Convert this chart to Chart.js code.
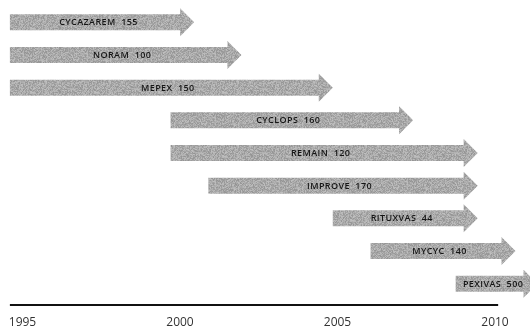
<!DOCTYPE html>
<html>
<head>
<meta charset="utf-8">
<script src="https://cdn.jsdelivr.net/npm/chart.js@4"></script>
<style>
  html, body { margin: 0; padding: 0; background: #fff; }
  #wrap { width: 530px; height: 328px; }
</style>
</head>
<body>
<div id="wrap"><canvas id="chart"></canvas></div>
<script>
// trials, in order from top to bottom
const trials = ['CYCAZAREM', 'NORAM', 'MEPEX', 'CYCLOPS', 'REMAIN', 'IMPROVE', 'RITUXVAS', 'MYCYC', 'PEXIVAS'];
// number of patients shown after the name
const patients = [155, 100, 150, 160, 120, 170, 44, 140, 500];
// start and end (arrow tip) in years
const startYears = [1994.6, 1994.6, 1994.6, 1999.7, 1999.7, 2000.9, 2004.85, 2006.05, 2008.75];
const endYears = [2000.45, 2001.95, 2004.85, 2007.4, 2009.45, 2009.45, 2009.45, 2010.65, 2011.35];
// timeline axis
const tickYears = [1995, 2000, 2005, 2010];
const axisYears = [1994.6, 2010.1];

// grey speckled fill like the slide arrows
function makeTexture() {
  const c = document.createElement('canvas');
  c.width = 64; c.height = 64;
  const g = c.getContext('2d');
  const img = g.createImageData(64, 64);
  let s = 12345;
  for (let i = 0; i < 64 * 64; i++) {
    s = (s * 1103515245 + 12345) & 0x7fffffff;
    const v = 148 + ((s >> 8) % 44);
    img.data[i * 4] = v;
    img.data[i * 4 + 1] = v;
    img.data[i * 4 + 2] = v;
    img.data[i * 4 + 3] = 255;
  }
  g.putImageData(img, 0, 0);
  return c;
}

const arrowPlugin = {
  id: 'arrows',
  afterDatasetsDraw(chart) {
    const ctx = chart.ctx;
    const pattern = ctx.createPattern(makeTexture(), 'repeat');
    const meta = chart.getDatasetMeta(0);
    const shaft = 8, head = 14, headLen = 14;
    meta.data.forEach((bar, i) => {
      const { x, y, base } = bar.getProps(['x', 'y', 'base'], true);
      ctx.save();
      ctx.beginPath();
      ctx.moveTo(base, y - shaft);
      ctx.lineTo(x - headLen, y - shaft);
      ctx.lineTo(x - headLen, y - head);
      ctx.lineTo(x, y);
      ctx.lineTo(x - headLen, y + head);
      ctx.lineTo(x - headLen, y + shaft);
      ctx.lineTo(base, y + shaft);
      ctx.closePath();
      ctx.fillStyle = pattern;
      ctx.fill();
      // label
      ctx.fillStyle = '#151515';
      ctx.font = '600 9px "Open Sans"';
      ctx.letterSpacing = '0.4px';
      ctx.textAlign = 'center';
      ctx.textBaseline = 'middle';
      ctx.fillText(trials[i] + '  ' + patients[i], (base + x - headLen / 2) / 2, y + 0.5);
      ctx.restore();
    });

    // timeline line
    const xs = chart.scales.x;
    const ly = chart.chartArea.bottom + 5;
    ctx.save();
    ctx.strokeStyle = '#111';
    ctx.lineWidth = 2;
    ctx.beginPath();
    ctx.moveTo(xs.getPixelForValue(axisYears[0]), ly);
    ctx.lineTo(xs.getPixelForValue(axisYears[1]), ly);
    ctx.stroke();
    ctx.restore();
  }
};

new Chart(document.getElementById('chart'), {
  type: 'bar',
  data: {
    labels: trials,
    datasets: [{
      data: trials.map((t, i) => [startYears[i], endYears[i]]),
      backgroundColor: 'rgba(0,0,0,0)',
      barThickness: 16
    }]
  },
  options: {
    indexAxis: 'y',
    responsive: true,
    maintainAspectRatio: false,
    animation: false,
    layout: { padding: { top: 6, left: 0, right: 0, bottom: 0 } },
    plugins: { legend: { display: false }, tooltip: { enabled: false } },
    scales: {
      x: {
        type: 'linear',
        min: 1994.286,
        max: 2011.111,
        afterBuildTicks: axis => { axis.ticks = tickYears.map(v => ({ value: v })); },
        afterFit: axis => {
          axis.height = 28;
          axis.paddingLeft = 0;
          axis.paddingRight = 0;
        },
        grid: { display: false, drawTicks: false },
        border: { display: false },
        ticks: {
          padding: 17,
          autoSkip: false,
          maxRotation: 0,
          color: '#333',
          font: { family: '"Open Sans"', size: 12, lineHeight: 1 },
          callback: v => String(v)
        }
      },
      y: { display: false }
    }
  },
  plugins: [arrowPlugin]
});
</script>
</body>
</html>
